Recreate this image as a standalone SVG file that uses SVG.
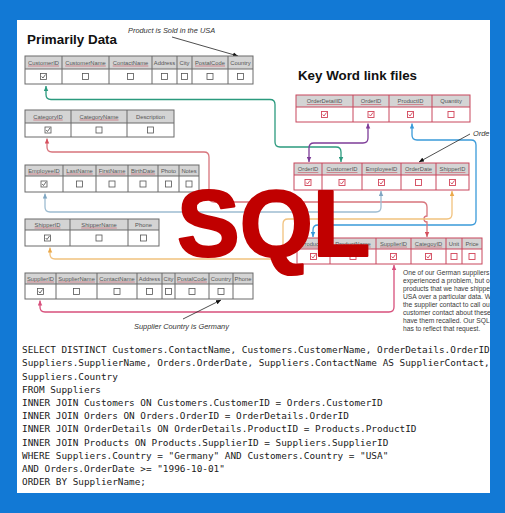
<svg xmlns="http://www.w3.org/2000/svg" xmlns:xlink="http://www.w3.org/1999/xlink" width="505" height="513" viewBox="0 0 505 513">
<style>
.hg{fill:#d4d4d4}
.bw{fill:#fff}
.og{fill:none;stroke:#6a6a6a;stroke-width:1}
.or{fill:none;stroke:#c8475c;stroke-width:1}
.ht{font-family:"Liberation Sans",Arial,sans-serif;font-size:5.8px;fill:#555;text-anchor:middle}
.ul{stroke:#c8505f;stroke-width:0.6;fill:none}
.cn{fill:none;stroke-width:1.3}
.pt{fill:none;stroke:#222;stroke-width:0.8}
.it{font-family:"Liberation Sans",Arial,sans-serif;font-style:italic;font-size:7.4px;fill:#333}
.ti{font-family:"Liberation Sans",Arial,sans-serif;font-weight:bold;fill:#111}
.pa{font-family:"Liberation Sans",Arial,sans-serif;font-size:6.7px;fill:#3a3a3a}
.sq{font-family:"DejaVu Sans Mono","Liberation Mono",monospace;font-size:9.37px;fill:#1a1a1a}
</style>
<defs>
<g id="bxG"><rect x="-3" y="-3" width="6" height="6" fill="#fff" stroke="#555" stroke-width="0.8"/></g>
<g id="ckG"><rect x="-3" y="-3" width="6" height="6" fill="#fff" stroke="#555" stroke-width="0.8"/><path d="M-1.8,0 L-0.5,1.5 L2,-2" fill="none" stroke="#444" stroke-width="0.8"/></g>
<g id="bxR"><rect x="-3" y="-3" width="6" height="6" fill="#fff" stroke="#d2455a" stroke-width="0.9"/></g>
<g id="ckR"><rect x="-3" y="-3" width="6" height="6" fill="#fff" stroke="#d2455a" stroke-width="0.9"/><path d="M-1.8,0 L-0.5,1.5 L2,-2" fill="none" stroke="#d2455a" stroke-width="0.9"/></g>
<marker id="mGr" viewBox="0 0 10 10" refX="10" refY="5" markerWidth="5" markerHeight="5" markerUnits="userSpaceOnUse" orient="auto-start-reverse"><path d="M0,0.5 L10,5 L0,9.5 z" fill="#2b9a7e"/></marker>
<marker id="mPu" viewBox="0 0 10 10" refX="10" refY="5" markerWidth="5" markerHeight="5" markerUnits="userSpaceOnUse" orient="auto-start-reverse"><path d="M0,0.5 L10,5 L0,9.5 z" fill="#7d3c98"/></marker>
<marker id="mBl" viewBox="0 0 10 10" refX="10" refY="5" markerWidth="5" markerHeight="5" markerUnits="userSpaceOnUse" orient="auto-start-reverse"><path d="M0,0.5 L10,5 L0,9.5 z" fill="#3a9ad9"/></marker>
<marker id="mRd" viewBox="0 0 10 10" refX="10" refY="5" markerWidth="5" markerHeight="5" markerUnits="userSpaceOnUse" orient="auto-start-reverse"><path d="M0,0.5 L10,5 L0,9.5 z" fill="#d6505e"/></marker>
<marker id="mSt" viewBox="0 0 10 10" refX="10" refY="5" markerWidth="5" markerHeight="5" markerUnits="userSpaceOnUse" orient="auto-start-reverse"><path d="M0,0.5 L10,5 L0,9.5 z" fill="#7fa6c2"/></marker>
<marker id="mOr" viewBox="0 0 10 10" refX="10" refY="5" markerWidth="5" markerHeight="5" markerUnits="userSpaceOnUse" orient="auto-start-reverse"><path d="M0,0.5 L10,5 L0,9.5 z" fill="#eba94a"/></marker>
<marker id="mPk" viewBox="0 0 10 10" refX="10" refY="5" markerWidth="5" markerHeight="5" markerUnits="userSpaceOnUse" orient="auto-start-reverse"><path d="M0,0.5 L10,5 L0,9.5 z" fill="#d8507c"/></marker>
<marker id="mBk" viewBox="0 0 10 10" refX="10" refY="5" markerWidth="5" markerHeight="5" markerUnits="userSpaceOnUse" orient="auto"><path d="M0,0.5 L10,5 L0,9.5 z" fill="#111"/></marker>
</defs>

<rect x="0" y="0" width="505" height="513" fill="#1279d5"/>
<rect x="17" y="20" width="473" height="473" fill="#fff"/>

<text class="ti" x="27" y="44" font-size="13.5" textLength="90" lengthAdjust="spacingAndGlyphs">Primarily Data</text>
<text class="ti" x="298" y="80" font-size="13.2" textLength="119" lengthAdjust="spacingAndGlyphs">Key Word link files</text>

<g id="connectors">
<path class="cn" stroke="#2b9a7e" marker-start="url(#mGr)" marker-end="url(#mGr)" d="M46,86 V94.5 Q46,99.5 51,99.5 H270 Q275,99.5 275,104.5 V142 Q275,147 280,147 H336 Q341,147 341,152 V162"/>
<path class="cn" stroke="#7d3c98" marker-start="url(#mPu)" marker-end="url(#mPu)" d="M309,162 V148 Q309,143 314,143 H363 Q368,143 368,138 V123.5"/>
<path class="cn" stroke="#3a9ad9" marker-start="url(#mBl)" marker-end="url(#mBl)" d="M412,123.5 V135 Q412,140 417,140 H471 Q476,140 476,145 V220 Q476,225 471,225 H318 Q313,225 313,230 V237"/>
<path class="cn" stroke="#d8747c" marker-start="url(#mRd)" marker-end="url(#mRd)" d="M47,138.5 V147 Q47,152 52,152 H204 Q209,152 209,157 V197 Q209,202 214,202 H422 Q427,202 427,207 V216 A3,3 0 0 0 427,222 V237"/>
<path class="cn" stroke="#9dbcd1" marker-start="url(#mSt)" marker-end="url(#mSt)" d="M45,193.5 V207 Q45,212 50,212 H376 Q381,212 381,207 V191"/>
<path class="cn" stroke="#f1c27e" marker-start="url(#mOr)" marker-end="url(#mOr)" d="M50,247.5 V254 Q50,259 55,259 H278 Q283,259 283,254 V224 Q283,219 288,219 H447 Q452,219 452,214 V191"/>
<path class="cn" stroke="#d8507c" marker-start="url(#mPk)" marker-end="url(#mPk)" d="M40,300.5 V307 Q40,312 45,312 H389 Q394,312 394,307 V265"/>
<path class="pt" marker-end="url(#mBk)" d="M172,37 L238,56"/>
<path class="pt" marker-end="url(#mBk)" d="M470,134 L419,162"/>
<path class="pt" marker-end="url(#mBk)" d="M183,319 L221,300"/>
</g>

<text class="it" x="128" y="33">Product is Sold in the USA</text>
<text class="it" x="473" y="136">Orde</text>
<text class="it" x="134" y="329">Supplier Country is Germany</text>

<g id="customers">
<rect class="hg" x="25" y="56" width="228" height="13"/>
<rect class="bw" x="25" y="69" width="228" height="15"/>
<path class="og" d="M25,69H253M62,56V84M109,56V84M152,56V84M177,56V84M192,56V84M228,56V84"/>
<rect class="og" x="25" y="56" width="228" height="28"/>
<text class="ht" x="43.5" y="64.6">CustomerID</text>
<text class="ht" x="85.5" y="64.6">CustomerName</text>
<text class="ht" x="130.5" y="64.6">ContactName</text>
<text class="ht" x="164.5" y="64.6">Address</text>
<text class="ht" x="184.5" y="64.6">City</text>
<text class="ht" x="210" y="64.6">PostalCode</text>
<text class="ht" x="240.5" y="64.6">Country</text>
<path class="ul" d="M28,66H59M65.2,66H105.8M112.7,66H148.3M195,66H225"/>
<use href="#ckG" x="43.5" y="76.5"/><use href="#bxG" x="85.5" y="76.5"/><use href="#bxG" x="130.5" y="76.5"/><use href="#bxG" x="164.5" y="76.5"/><use href="#bxG" x="184.5" y="76.5"/><use href="#bxG" x="210" y="76.5"/><use href="#bxG" x="240.5" y="76.5"/>
</g>

<g id="categories">
<rect class="hg" x="25" y="110" width="149" height="13"/>
<rect class="bw" x="25" y="123" width="149" height="14"/>
<path class="og" d="M25,123H174M71,110V137M127,110V137"/>
<rect class="og" x="25" y="110" width="149" height="27"/>
<text class="ht" x="48" y="118.6">CategoryID</text>
<text class="ht" x="99" y="118.6">CategoryName</text>
<text class="ht" x="150.5" y="118.6">Description</text>
<path class="ul" d="M33.3,120H62.7M79.5,120H118.5"/>
<use href="#ckG" x="48" y="130"/><use href="#bxG" x="99" y="130"/><use href="#bxG" x="150.5" y="130"/>
</g>

<g id="employees">
<rect class="hg" x="25" y="165" width="174" height="11"/>
<rect class="bw" x="25" y="176" width="174" height="16"/>
<path class="og" d="M25,176H199M63,165V192M96,165V192M128,165V192M158,165V192M179,165V192"/>
<rect class="og" x="25" y="165" width="174" height="27"/>
<text class="ht" x="44" y="172.6">EmployeeID</text>
<text class="ht" x="79.5" y="172.6">LastName</text>
<text class="ht" x="112" y="172.6">FirstName</text>
<text class="ht" x="143" y="172.6">BirthDate</text>
<text class="ht" x="168.5" y="172.6">Photo</text>
<text class="ht" x="189" y="172.6">Notes</text>
<path class="ul" d="M28.2,174H59.8M66.3,174H92.7M98.6,174H125.4M130.9,174H155.1"/>
<use href="#ckG" x="44" y="184"/><use href="#bxG" x="79.5" y="184"/><use href="#bxG" x="112" y="184"/><use href="#bxG" x="143" y="184"/><use href="#bxG" x="168.5" y="184"/><use href="#bxG" x="189" y="184"/>
</g>

<g id="shippers">
<rect class="hg" x="25" y="219" width="134" height="11"/>
<rect class="bw" x="25" y="230" width="134" height="16"/>
<path class="og" d="M25,230H159M70,219V246M128,219V246"/>
<rect class="og" x="25" y="219" width="134" height="27"/>
<text class="ht" x="47.5" y="226.6">ShipperID</text>
<text class="ht" x="99" y="226.6">ShipperName</text>
<text class="ht" x="143.5" y="226.6">Phone</text>
<path class="ul" d="M34.6,228H60.4M81.2,228H116.8"/>
<use href="#ckG" x="47.5" y="238"/><use href="#bxG" x="99" y="238"/><use href="#bxG" x="143.5" y="238"/>
</g>

<g id="suppliers">
<rect class="hg" x="25" y="273" width="228" height="11"/>
<rect class="bw" x="25" y="284" width="228" height="15"/>
<path class="og" d="M25,284H253M56,273V299M97,273V299M137,273V299M162,273V299M175,273V299M209,273V299M233,273V299"/>
<rect class="og" x="25" y="273" width="228" height="26"/>
<text class="ht" x="40.5" y="280.6">SupplierID</text>
<text class="ht" x="76.5" y="280.6">SupplierName</text>
<text class="ht" x="117" y="280.6">ContactName</text>
<text class="ht" x="149.5" y="280.6">Address</text>
<text class="ht" x="168.5" y="280.6">City</text>
<text class="ht" x="192" y="280.6">PostalCode</text>
<text class="ht" x="221" y="280.6">Country</text>
<text class="ht" x="243" y="280.6">Phone</text>
<path class="ul" d="M27,282H54M58.1,282H94.9M99.2,282H134.8M177,282H207"/>
<use href="#ckG" x="40.5" y="291.5"/><use href="#bxG" x="76.5" y="291.5"/><use href="#bxG" x="117" y="291.5"/><use href="#bxG" x="149.5" y="291.5"/><use href="#bxG" x="168.5" y="291.5"/><use href="#bxG" x="192" y="291.5"/><use href="#bxG" x="221" y="291.5"/>
</g>

<g id="orderdetails">
<rect class="hg" x="296" y="95" width="174" height="12"/>
<rect class="bw" x="296" y="107" width="174" height="15"/>
<path class="or" d="M296,107H470M353,95V122M389,95V122M432,95V122"/>
<rect class="or" x="296" y="95" width="174" height="27"/>
<text class="ht" x="324.5" y="103.1">OrderDetailID</text>
<text class="ht" x="371" y="103.1">OrderID</text>
<text class="ht" x="410.5" y="103.1">ProductID</text>
<text class="ht" x="451" y="103.1">Quantity</text>
<path class="ul" d="M306.8,104.5H342.2M360.7,104.5H381.3M397.6,104.5H423.4"/>
<use href="#ckR" x="324.5" y="114.5"/><use href="#ckR" x="371" y="114.5"/><use href="#ckR" x="410.5" y="114.5"/><use href="#bxR" x="451" y="114.5"/>
</g>

<g id="orders">
<rect class="hg" x="294" y="163" width="175" height="12"/>
<rect class="bw" x="294" y="175" width="175" height="15"/>
<path class="or" d="M294,175H469M322,163V190M362,163V190M401,163V190M436,163V190"/>
<rect class="or" x="294" y="163" width="175" height="27"/>
<text class="ht" x="308" y="171.1">OrderID</text>
<text class="ht" x="342" y="171.1">CustomerID</text>
<text class="ht" x="381.5" y="171.1">EmployeeID</text>
<text class="ht" x="418.5" y="171.1">OrderDate</text>
<text class="ht" x="452.5" y="171.1">ShipperID</text>
<path class="ul" d="M297.7,172.5H318.3M326.5,172.5H357.5M365.7,172.5H397.3M404.9,172.5H432.1M439.6,172.5H465.4"/>
<use href="#ckR" x="308" y="182.5"/><use href="#ckR" x="342" y="182.5"/><use href="#ckR" x="381.5" y="182.5"/><use href="#bxR" x="418.5" y="182.5"/><use href="#ckR" x="452.5" y="182.5"/>
</g>

<g id="products">
<rect class="hg" x="297" y="238" width="185" height="11"/>
<rect class="bw" x="297" y="249" width="185" height="15"/>
<path class="or" d="M297,249H482M330,238V264M376,238V264M411,238V264M446,238V264M462,238V264"/>
<rect class="or" x="297" y="238" width="185" height="26"/>
<text class="ht" x="313.5" y="245.6">ProductID</text>
<text class="ht" x="353" y="245.6">ProductName</text>
<text class="ht" x="393.5" y="245.6">SupplierID</text>
<text class="ht" x="428.5" y="245.6">CategoyID</text>
<text class="ht" x="454" y="245.6">Unit</text>
<text class="ht" x="472" y="245.6">Price</text>
<path class="ul" d="M300.6,247H326.4M335.2,247H370.8M380,247H407M414.8,247H442.2"/>
<use href="#ckR" x="313.5" y="256.5"/><use href="#bxR" x="353" y="256.5"/><use href="#ckR" x="393.5" y="256.5"/><use href="#ckR" x="428.5" y="256.5"/><use href="#bxR" x="454" y="256.5"/><use href="#bxR" x="472" y="256.5"/>
</g>

<g id="note">
<text class="pa" x="403" y="275">One of our German suppliers</text>
<text class="pa" x="403" y="283">experienced a problem, but o</text>
<text class="pa" x="403" y="291">products that we have shippe</text>
<text class="pa" x="403" y="299">USA over a particular data. W</text>
<text class="pa" x="403" y="307">the supplier contact to call ou</text>
<text class="pa" x="403" y="315">customer contact about these</text>
<text class="pa" x="403" y="323">have them recalled. Our SQL</text>
<text class="pa" x="403" y="331">has to reflect that request.</text>
</g>

<text x="177" y="255.5" font-family="'Liberation Sans',Arial,sans-serif" font-weight="bold" font-size="94" fill="#c00000" stroke="#c00000" stroke-width="2.2" stroke-linejoin="round">SQL</text>

<g id="sql">
<text class="sq" x="22" y="353">SELECT DISTINCT Customers.ContactName, Customers.CustomerName, OrderDetails.OrderID</text>
<text class="sq" x="22" y="366.2">Suppliers.SupplierName, Orders.OrderDate, Suppliers.ContactName AS SupplierContact,</text>
<text class="sq" x="22" y="379.5">Suppliers.Country</text>
<text class="sq" x="22" y="392.7">FROM Suppliers</text>
<text class="sq" x="22" y="406">INNER JOIN Customers ON Customers.CustomerID = Orders.CustomerID</text>
<text class="sq" x="22" y="419.2">INNER JOIN Orders ON Orders.OrderID = OrderDetails.OrderID</text>
<text class="sq" x="22" y="432.4">INNER JOIN OrderDetails ON OrderDetails.ProductID = Products.ProductID</text>
<text class="sq" x="22" y="445.7">INNER JOIN Products ON Products.SupplierID = Suppliers.SupplierID</text>
<text class="sq" x="22" y="458.9">WHERE Suppliers.Country = "Germany" AND Customers.Country = "USA"</text>
<text class="sq" x="22" y="472.2">AND Orders.OrderDate &gt;= "1996-10-01"</text>
<text class="sq" x="22" y="485.4">ORDER BY SupplierName;</text>
</g>

<path d="M0,0H505V513H0Z M17,20V493H490V20Z" fill="#1279d5" fill-rule="evenodd"/>
</svg>
